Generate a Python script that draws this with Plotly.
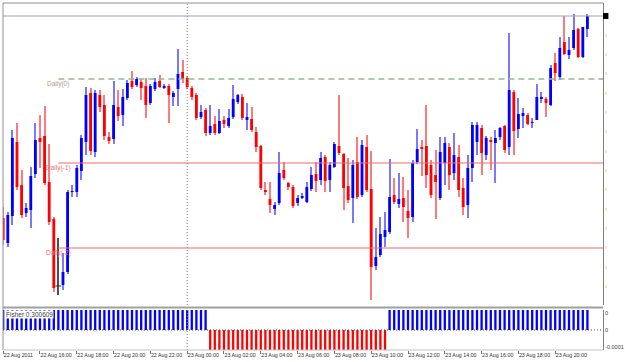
import plotly.graph_objects as go
import pandas as pd

# ---------------- DATA ----------------
TIMES = pd.date_range("2011-08-22 14:00", periods=128, freq="15min")

OPEN = [1.4382,1.4357,1.4384,1.4458,1.4415,1.4387,1.4390,1.4426,1.4462,1.4464,
        1.4418,1.4381,1.4314,1.4315,1.4328,1.4408,1.4408,1.4429,1.4458,1.4507,
        1.4448,1.4505,1.4495,1.4463,1.4461,1.4493,1.4485,1.4502,1.4519,1.4515,
        1.4518,1.4514,1.4497,1.4511,1.4519,1.4512,1.4514,1.4503,1.4511,1.4528,
        1.4522,1.4512,1.4505,1.4483,1.4490,1.4467,1.4476,1.4467,1.4480,1.4474,
        1.4483,1.4498,1.4503,1.4480,1.4481,1.4468,1.4454,1.4410,1.4401,1.4391,
        1.4397,1.4430,1.4417,1.4413,1.4397,1.4402,1.4398,1.4411,1.4426,1.4420,
        1.4443,1.4420,1.4433,1.4454,1.4446,1.4414,1.4402,1.4438,1.4405,1.4453,
        1.4411,1.4334,1.4345,1.4363,1.4368,1.4405,1.4396,1.4402,1.4389,1.4383,
        1.4438,1.4453,1.4454,1.4435,1.4425,1.4402,1.4437,1.4453,1.4427,1.4443,
        1.4412,1.4395,1.4432,1.4458,1.4472,1.4445,1.4460,1.4457,1.4463,1.4474,
        1.4453,1.4508,1.4471,1.4484,1.4485,1.4477,1.4480,1.4501,1.4501,1.4495,
        1.4537,1.4523,1.4558,1.4545,1.4552,1.4571,1.4543,1.4571]

HIGH = [1.4393,1.4388,1.4470,1.4477,1.4430,1.4397,1.4433,1.4477,1.4485,1.4494,
        1.4456,1.4383,1.4362,1.4347,1.4410,1.4415,1.4435,1.4465,1.4513,1.4512,
        1.4510,1.4510,1.4505,1.4468,1.4519,1.4510,1.4511,1.4520,1.4529,1.4523,
        1.4521,1.4522,1.4516,1.4522,1.4525,1.4516,1.4516,1.4509,1.4551,1.4540,
        1.4524,1.4514,1.4507,1.4495,1.4492,1.4495,1.4484,1.4491,1.4484,1.4491,
        1.4515,1.4506,1.4506,1.4497,1.4493,1.4473,1.4455,1.4418,1.4418,1.4398,
        1.4448,1.4438,1.4418,1.4415,1.4405,1.4407,1.4418,1.4433,1.4438,1.4448,
        1.4445,1.4438,1.4458,1.4505,1.4447,1.4442,1.4440,1.4463,1.4460,1.4465,
        1.4449,1.4372,1.4383,1.4388,1.4441,1.4422,1.4427,1.4423,1.4410,1.4440,
        1.4471,1.4460,1.4495,1.4440,1.4450,1.4463,1.4463,1.4457,1.4467,1.4455,
        1.4422,1.4445,1.4478,1.4478,1.4475,1.4464,1.4463,1.4470,1.4473,1.4475,
        1.4567,1.4510,1.4502,1.4492,1.4487,1.4482,1.4516,1.4508,1.4503,1.4535,
        1.4547,1.4563,1.4584,1.4563,1.4586,1.4572,1.4573,1.4586]

LOW = [1.4355,1.4353,1.4375,1.4410,1.4382,1.4383,1.4372,1.4422,1.4432,1.4415,
       1.4375,1.4308,1.4305,1.4310,1.4326,1.4403,1.4403,1.4420,1.4445,1.4445,
       1.4443,1.4488,1.4460,1.4456,1.4456,1.4479,1.4474,1.4500,1.4511,1.4513,
       1.4500,1.4482,1.4495,1.4509,1.4512,1.4511,1.4477,1.4494,1.4494,1.4517,
       1.4511,1.4500,1.4480,1.4481,1.4464,1.4465,1.4465,1.4466,1.4472,1.4472,
       1.4481,1.4496,1.4480,1.4470,1.4468,1.4448,1.4410,1.4405,1.4387,1.4385,
       1.4395,1.4420,1.4410,1.4392,1.4394,1.4401,1.4397,1.4409,1.4408,1.4415,
       1.4408,1.4408,1.4432,1.4445,1.4390,1.4397,1.4377,1.4401,1.4403,1.4408,
       1.4300,1.4330,1.4343,1.4353,1.4366,1.4396,1.4392,1.4378,1.4362,1.4378,
       1.4436,1.4424,1.4412,1.4402,1.4381,1.4400,1.4415,1.4410,1.4420,1.4403,
       1.4385,1.4382,1.4418,1.4445,1.4425,1.4440,1.4430,1.4417,1.4460,1.4447,
       1.4445,1.4445,1.4462,1.4472,1.4475,1.4472,1.4480,1.4497,1.4483,1.4494,
       1.4519,1.4520,1.4545,1.4541,1.4550,1.4542,1.4542,1.4563]

CLOSE = [1.4360,1.4385,1.4462,1.4413,1.4385,1.4392,1.4424,1.4460,1.4458,1.4417,
         1.4378,1.4312,1.4314,1.4328,1.4408,1.4409,1.4432,1.4462,1.4505,1.4449,
         1.4507,1.4493,1.4464,1.4459,1.4495,1.4484,1.4503,1.4517,1.4513,1.4521,
         1.4512,1.4495,1.4514,1.4518,1.4513,1.4514,1.4505,1.4507,1.4526,1.4521,
         1.4513,1.4503,1.4482,1.4488,1.4467,1.4474,1.4467,1.4479,1.4476,1.4482,
         1.4501,1.4505,1.4482,1.4483,1.4470,1.4453,1.4412,1.4408,1.4395,1.4395,
         1.4427,1.4422,1.4413,1.4394,1.4402,1.4404,1.4413,1.4425,1.4419,1.4442,
         1.4419,1.4435,1.4456,1.4447,1.4412,1.4400,1.4435,1.4403,1.4455,1.4410,
         1.4333,1.4343,1.4366,1.4370,1.4403,1.4398,1.4401,1.4393,1.4382,1.4437,
         1.4451,1.4451,1.4425,1.4405,1.4418,1.4448,1.4457,1.4425,1.4445,1.4410,
         1.4393,1.4432,1.4475,1.4475,1.4447,1.4462,1.4458,1.4462,1.4472,1.4450,
         1.4510,1.4469,1.4486,1.4487,1.4476,1.4478,1.4503,1.4503,1.4497,1.4532,
         1.4527,1.4552,1.4546,1.4550,1.4570,1.4543,1.4573,1.4584]

FISHER = [0.3006, 0.3006, 0.3006, 0.3006, 0.3006, 0.3006, 0.3006, 0.3006, 0.3006, 0.3006,
          0.3006, 0.3006, 0.3006, 0.3006, 0.3006, 0.3006, 0.3006, 0.3006, 0.3006, 0.3006,
          0.3006, 0.3006, 0.3006, 0.3006, 0.3006, 0.3006, 0.3006, 0.3006, 0.3006, 0.3006,
          0.3006, 0.3006, 0.3006, 0.3006, 0.3006, 0.3006, 0.3006, 0.3006, 0.3006, 0.3006,
          0.3006, 0.3006, 0.3006, 0.3006, 0.3006, -0.3006, -0.3006, -0.3006, -0.3006, -0.3006,
          -0.3006, -0.3006, -0.3006, -0.3006, -0.3006, -0.3006, -0.3006, -0.3006, -0.3006, -0.3006,
          -0.3006, -0.3006, -0.3006, -0.3006, -0.3006, -0.3006, -0.3006, -0.3006, -0.3006, -0.3006,
          -0.3006, -0.3006, -0.3006, -0.3006, -0.3006, -0.3006, -0.3006, -0.3006, -0.3006, -0.3006,
          -0.3006, -0.3006, -0.3006, -0.3006, 0.3006, 0.3006, 0.3006, 0.3006, 0.3006, 0.3006,
          0.3006, 0.3006, 0.3006, 0.3006, 0.3006, 0.3006, 0.3006, 0.3006, 0.3006, 0.3006,
          0.3006, 0.3006, 0.3006, 0.3006, 0.3006, 0.3006, 0.3006, 0.3006, 0.3006, 0.3006,
          0.3006, 0.3006, 0.3006, 0.3006, 0.3006, 0.3006, 0.3006, 0.3006, 0.3006, 0.3006,
          0.3006, 0.3006, 0.3006, 0.3006, 0.3006, 0.3006, 0.3006, 0.300609]

DAILY_LEVELS = [1.4521, 1.4437, 1.4352]
DAILY_NAMES = ["Daily(0)", "Daily(-1)", "Daily(-2)"]
DAILY_START = 12

TIME_TICKS = [0, 8, 16, 24, 32, 40, 48, 56, 64, 72, 80, 88, 96, 104, 112, 120]
TIME_LABELS = ["22 Aug 2011", "22 Aug 16:00", "22 Aug 18:00", "22 Aug 20:00",
               "22 Aug 22:00", "23 Aug 00:00", "23 Aug 02:00", "23 Aug 04:00",
               "23 Aug 06:00", "23 Aug 08:00", "23 Aug 10:00", "23 Aug 12:00",
               "23 Aug 14:00", "23 Aug 16:00", "23 Aug 18:00", "23 Aug 20:00"]

PRICE_TICKS = [1.4565, 1.4546, 1.4527, 1.4507, 1.4488, 1.4469, 1.4449, 1.4430,
               1.4411, 1.4391, 1.4372, 1.4353, 1.4333, 1.4314]
FISHER_TICKS = [0.255, 0.0, -0.255]
FISHER_TICKTEXT = ["0", "0", "-0.0001"]

# ---------------- FIGURE ----------------
N = len(OPEN)
idx = list(range(N))
FONT = "Liberation Sans"

body_col, wick_col = [], []
for o, c in zip(OPEN, CLOSE):
    if c > o:
        body_col.append("#0000ff"); wick_col.append("#7a7aff")
    elif c < o:
        body_col.append("#ff0000"); wick_col.append("#ff7a7a")
    else:
        body_col.append("#303030"); wick_col.append("#505050")

fig = go.Figure()
fig.add_trace(go.Bar(x=idx, y=[h - l for h, l in zip(HIGH, LOW)], base=LOW, width=0.24,
                     marker=dict(color=wick_col, line=dict(width=0)), yaxis="y", hoverinfo="skip"))
fig.add_trace(go.Bar(x=idx, y=[abs(c - o) for o, c in zip(OPEN, CLOSE)],
                     base=[min(o, c) for o, c in zip(OPEN, CLOSE)], width=0.62,
                     marker=dict(color=body_col, line=dict(width=0)), yaxis="y", hoverinfo="skip"))
doji = [i for i in idx if OPEN[i] == CLOSE[i]]
fig.add_trace(go.Scatter(x=doji, y=[CLOSE[i] for i in doji], mode="markers", yaxis="y",
                         marker=dict(symbol="line-ew", size=4, line=dict(color="#303030", width=1))))

fig.add_trace(go.Bar(x=idx, y=FISHER, width=0.5, yaxis="y2",
                     marker=dict(color=["#0000ff" if v > 0 else "#ff0000" for v in FISHER],
                                 line=dict(width=0)), hoverinfo="skip"))

XR = [-0.04, 130.39]
day_idx = [i for i, t in enumerate(TIMES) if t.hour == 0 and t.minute == 0][0]

shapes = []
for lvl, name in zip(DAILY_LEVELS, DAILY_NAMES):
    if name == "Daily(0)":
        ln = dict(color="#94b894", width=1.5, dash="6px,4px")
    else:
        ln = dict(color="#f06a6a", width=1)
    shapes.append(dict(type="line", xref="x", yref="y", x0=DAILY_START, x1=XR[1], y0=lvl, y1=lvl, line=ln))
shapes.append(dict(type="line", xref="paper", yref="y", x0=0, x1=1, y0=CLOSE[-1], y1=CLOSE[-1],
                   line=dict(color="#a0a0b8", width=1)))
shapes.append(dict(type="rect", xref="paper", yref="y", x0=1.0, x1=1.009,
                   y0=CLOSE[-1] - 0.0003, y1=CLOSE[-1] + 0.0003, fillcolor="black", line=dict(width=0)))
shapes.append(dict(type="line", xref="x", yref="paper", x0=day_idx, x1=day_idx, y0=0, y1=1,
                   line=dict(color="#808080", width=1, dash="1px,2px")))
shapes.append(dict(type="line", xref="paper", yref="y2", x0=0, x1=1, y0=0, y1=0,
                   line=dict(color="#505050", width=1, dash="1px,2px")))
shapes.append(dict(type="line", xref="paper", yref="paper", x0=0, x1=1, y0=0.1225, y1=0.1225,
                   line=dict(color="#a0a0a0", width=2)))
shapes.append(dict(type="line", xref="paper", yref="paper", x0=0, x1=0, y0=0, y1=1,
                   line=dict(color="#909090", width=1)))
shapes.append(dict(type="line", xref="paper", yref="paper", x0=0, x1=1, y0=1, y1=1,
                   line=dict(color="#909090", width=1)))
shapes.append(dict(type="line", xref="paper", yref="paper", x0=0, x1=1, y0=0, y1=0,
                   line=dict(color="#c0c0c0", width=1)))

annotations = []
for lvl, name in zip(DAILY_LEVELS, DAILY_NAMES):
    annotations.append(dict(x=DAILY_START, y=lvl, xref="x", yref="y", text=name, showarrow=False,
                            xanchor="center", yanchor="top", yshift=1,
                            font=dict(family=FONT, size=6.5,
                                      color="#b0a088" if name == "Daily(0)" else "#f07070")))
annotations.append(dict(x=0.004, y=FISHER[0], xref="paper", yref="y2", text=f"Fisher {FISHER[-1]:.6f}",
                        showarrow=False, xanchor="left", yanchor="top", bgcolor="white", borderpad=0,
                        font=dict(family=FONT, size=6.5, color="#404040")))

fig.update_layout(
    width=625, height=362, margin=dict(l=3, r=22, t=3, b=12, autoexpand=False),
    paper_bgcolor="white", plot_bgcolor="white", showlegend=False, barmode="overlay",
    shapes=shapes, annotations=annotations,
    xaxis=dict(domain=[0, 1], range=XR, anchor="y2", showgrid=False, zeroline=False, showline=False,
               tickvals=TIME_TICKS, ticktext=TIME_LABELS, ticks="outside", ticklen=3,
               tickcolor="#707070", ticklabelposition="outside right", tickangle=0, automargin=False,
               tickfont=dict(family=FONT, size=5.3, color="#303030")),
    yaxis=dict(domain=[0.1297, 1], range=[1.4295, 1.4597], anchor="x", side="right",
               showgrid=False, zeroline=False, showline=True, linecolor="#808080", linewidth=1,
               tickvals=PRICE_TICKS, ticktext=["ı"] * len(PRICE_TICKS), ticks="", automargin=False,
               ticklabelstandoff=0,
               tickfont=dict(family=FONT, size=6, color="#f0a040")),
    yaxis2=dict(domain=[0, 0.1153], range=[-FISHER[-1], FISHER[-1]], anchor="x", side="right",
                showgrid=False, zeroline=False, showline=True, linecolor="#808080", linewidth=1,
                tickvals=FISHER_TICKS, ticktext=FISHER_TICKTEXT, ticks="", automargin=False,
                ticklabelstandoff=0,
                tickfont=dict(family=FONT, size=5.5, color="#404040")),
)

fig.write_html("out.html")
